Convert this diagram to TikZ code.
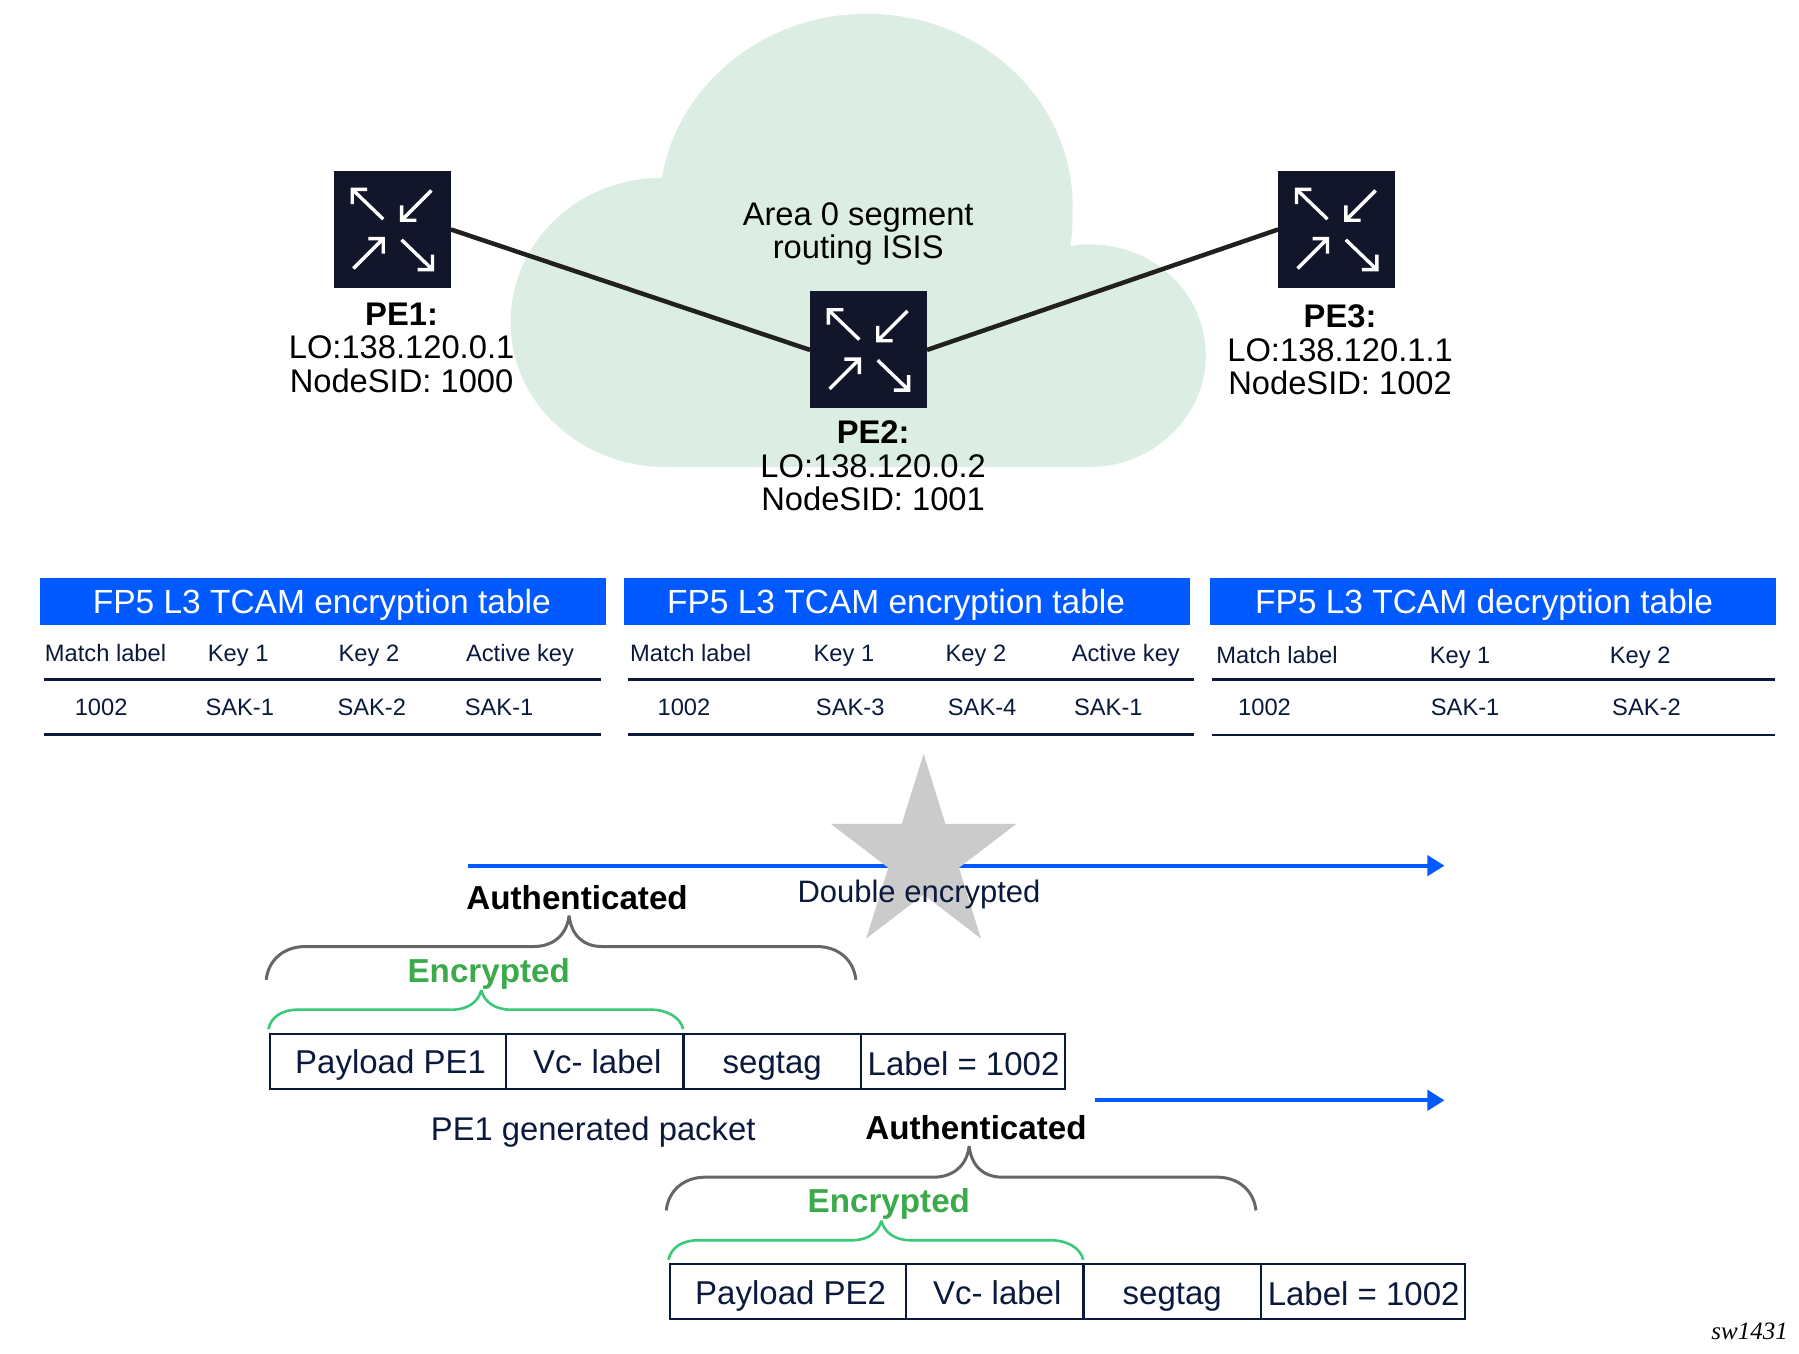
\documentclass[tikz,border=0pt]{standalone}
\usepackage{fontspec}
\setmainfont{Liberation Sans}
\newfontfamily\tagfont{Liberation Serif}
\usetikzlibrary{arrows.meta,positioning,calc}
\definecolor{navy}{HTML}{0B1A3C}
\definecolor{routerblack}{HTML}{12162A}
\definecolor{cloudgreen}{HTML}{DCEEE3}
\definecolor{linkblack}{HTML}{221F1F}
\definecolor{headblue}{HTML}{005AFF}
\definecolor{lightgreen}{HTML}{3CC878}
\definecolor{textgreen}{HTML}{3AAA4A}
\definecolor{bracegray}{HTML}{666666}
\definecolor{stargray}{HTML}{CBCBCB}
\newcommand{\bigfont}{\fontsize{32.7}{33.3}\selectfont}
\newcommand{\cellfont}{\fontsize{23.7}{28}\selectfont}
\tikzstyle{router}=[rectangle,fill=routerblack,minimum size=117pt,inner sep=0pt,outer sep=0pt]
\tikzstyle{routerarrow}=[draw=white,line width=3.4pt]
\tikzstyle{link}=[draw=linkblack,line width=4.5pt]
\tikzstyle{routerlabel}=[align=center,inner sep=0pt,font=\bigfont,text=black]
\tikzstyle{tablehead}=[rectangle,fill=headblue,minimum width=565.6pt,minimum height=47pt,inner sep=0pt]
\tikzstyle{tabletitle}=[inner sep=0pt,text=white,font=\fontsize{33.5}{38}\selectfont,text height=24pt,text depth=0pt]
\tikzstyle{cell}=[anchor=west,inner sep=0pt,text=navy,font=\cellfont,text height=17pt,text depth=0pt]
\tikzstyle{rule}=[draw=navy,line width=2.6pt]
\tikzstyle{field}=[rectangle,draw=navy,line width=2.2pt,inner sep=0pt,outer sep=0pt,minimum height=55pt,text=navy,font=\fontsize{33}{38}\selectfont,text height=24.5pt,text depth=0pt]
\tikzstyle{flow}=[draw=headblue,line width=4pt,-{Triangle[length=17pt,width=20pt]}]
\tikzstyle{caption}=[inner sep=0pt,text=navy,font=\fontsize{32.8}{38}\selectfont,text height=23.6pt,text depth=0pt]
\tikzstyle{authlabel}=[inner sep=0pt,text=black,font=\fontsize{33.2}{38}\selectfont\bfseries,text height=23.8pt,text depth=0pt]
\tikzstyle{enclabel}=[inner sep=0pt,text=textgreen,font=\fontsize{33.2}{38}\selectfont\bfseries,text height=23.8pt,text depth=0pt]
\tikzstyle{authbrace}=[draw=bracegray,line width=3pt,line join=bevel]
\tikzstyle{encbrace}=[draw=lightgreen,line width=2.6pt,line join=bevel]
\newcommand{\routerarrows}[1]{%
  \foreach \r in {0,180}{%
    \draw[routerarrow,shift={(#1.center)},rotate=\r]
      (-8,-9) -- (-35,-35) (-22,-35) -- (-35,-35) -- (-35,-22)
      (34,-34) -- (8,-8) (21,-8) -- (8,-8) -- (8,-21);
  }%
}
\newcommand{\packet}[2]{%
  \node[field,minimum width=236.3pt] (pay#1) at (338,925) {\hspace*{5.5pt}Payload #2};
  \node[field,minimum width=177.5pt,right=0pt of pay#1] (vc#1) {\hspace*{5pt}Vc- label};
  \node[field,minimum width=177.5pt,right=0pt of vc#1] (seg#1) {segtag};
  \node[field,minimum width=204.2pt,right=0pt of seg#1] (lab#1) {\hspace*{1pt}\raisebox{-1.5pt}{Label = 1002}};
  \draw[authbrace] (232,854) .. controls (234,836) and (248,825) .. (266,825) -- (465,825)
    .. controls (482,825) and (494,815) .. (496,798)
    .. controls (498,815) and (508,825) .. (525,825) -- (712,825)
    .. controls (730,825) and (744,836) .. (746,854);
  \draw[encbrace] (234,897) .. controls (236,887) and (245,880) .. (260,880) -- (394,880)
    .. controls (408,880) and (417,873) .. (419.5,863)
    .. controls (422,873) and (431,880) .. (445,880) -- (567,880)
    .. controls (582,880) and (593,887) .. (595.5,897);
}
\begin{document}
\begin{tikzpicture}[x=1.14732pt,y=-1.14732pt]
  \useasboundingbox (0,0) rectangle (1568,1179.3);

  % network
  \fill[cloudgreen] (580,407) -- (950,407) .. controls (1006,407) and (1051,362) .. (1051,310)
    .. controls (1051,256) and (1006,213) .. (950,213) .. controls (944,213) and (938,213.5) .. (933,214.5)
    .. controls (934.5,205) and (935,192) .. (935,180) .. controls (935,87) and (855,12) .. (755,12)
    .. controls (665,12) and (590,75) .. (577,155) .. controls (503,155) and (445,212) .. (445,281)
    .. controls (445,351) and (506,407) .. (580,407) -- cycle;

  \node[router] (pe1) at (342,200) {};
  \node[router] (pe2) at (757,305) {};
  \node[router] (pe3) at (1165,200) {};
  \draw[link] (pe1.east) -- (pe2.west);
  \draw[link] (pe2.east) -- (pe3.west);
  \routerarrows{pe1}
  \routerarrows{pe2}
  \routerarrows{pe3}

  \node[routerlabel] (area) at (748,204) {Area 0 segment \\ routing ISIS};
  \node[routerlabel] (pe1label) at (350,303) {\textbf{PE1:} \\ LO:138.120.0.1 \\ NodeSID: 1000};
  \node[routerlabel] (pe2label) at (761,406) {\textbf{PE2:} \\ LO:138.120.0.2 \\ NodeSID: 1001};
  \node[routerlabel] (pe3label) at (1168,305) {\textbf{PE3:} \\ LO:138.120.1.1 \\ NodeSID: 1002};

  % tables
  \node[tablehead] (head1) at (281.5,524.5) {};
  \node[tablehead] (head2) at (790.5,524.5) {};
  \node[tablehead] (head3) at (1301.5,524.5) {};
  \node[tabletitle] (title1) at (280.5,524) {FP5 L3 TCAM encryption table};
  \node[tabletitle] (title2) at (781,524) {FP5 L3 TCAM encryption table};
  \node[tabletitle] (title3) at (1293.5,524) {FP5 L3 TCAM decryption table};

  \node[cell] (t1a) at (39,569) {Match label};
  \node[cell] (t1b) at (181,569) {Key 1};
  \node[cell] (t1c) at (295,569) {Key 2};
  \node[cell] (t1d) at (406,569) {Active key};
  \node[cell] (t1e) at (65,616) {1002};
  \node[cell] (t1f) at (179,616) {SAK-1};
  \node[cell] (t1g) at (294,616) {SAK-2};
  \node[cell] (t1h) at (405,616) {SAK-1};
  \coordinate (r1a) at (38,592); \coordinate (r1b) at (524,592);
  \coordinate (r1c) at (38,640); \coordinate (r1d) at (524,640);
  \draw[rule] (r1a) -- (r1b);
  \draw[rule] (r1c) -- (r1d);

  \node[cell] (t2a) at (549,569) {Match label};
  \node[cell] (t2b) at (709,569) {Key 1};
  \node[cell] (t2c) at (824,569) {Key 2};
  \node[cell] (t2d) at (934,569) {Active key};
  \node[cell] (t2e) at (573,616) {1002};
  \node[cell] (t2f) at (711,616) {SAK-3};
  \node[cell] (t2g) at (826,616) {SAK-4};
  \node[cell] (t2h) at (936,616) {SAK-1};
  \coordinate (r2a) at (547,592); \coordinate (r2b) at (1041,592);
  \coordinate (r2c) at (547,640); \coordinate (r2d) at (1041,640);
  \draw[rule] (r2a) -- (r2b);
  \draw[rule] (r2c) -- (r2d);

  \node[cell] (t3a) at (1060,571) {Match label};
  \node[cell] (t3b) at (1246,571) {Key 1};
  \node[cell] (t3c) at (1403,571) {Key 2};
  \node[cell] (t3e) at (1079,616) {1002};
  \node[cell] (t3f) at (1247,616) {SAK-1};
  \node[cell] (t3g) at (1405,616) {SAK-2};
  \coordinate (r3a) at (1056,592); \coordinate (r3b) at (1547,592);
  \coordinate (r3c) at (1056,640.5); \coordinate (r3d) at (1547,640.5);
  \draw[rule] (r3a) -- (r3b);
  \draw[rule] (r3c) -- (r3d);

  % packets
  \coordinate (flow1a) at (408,754.5); \coordinate (flow1b) at (1259,754.5);
  \coordinate (flow2a) at (954,959); \coordinate (flow2b) at (1259,959);
  \draw[flow] (flow1a) -- (flow1b);
  \draw[flow] (flow2a) -- (flow2b);
  \fill[stargray] (805,657) -- (824,718) -- (886,718) -- (835.8,756.3) -- (855,818) -- (805,779.8)
    -- (755,818) -- (774.2,756.3) -- (724,718) -- (786,718) -- cycle;
  \node[caption,font=\fontsize{31}{36}\selectfont,text height=22.2pt] (double) at (801,777) {Double encrypted};

  \packet{a}{PE1}
  \node[authlabel] (autha) at (503,782) {Authenticated};
  \node[enclabel] (enca) at (426,846) {Encrypted};
  \node[caption] (gen) at (517,984) {PE1 generated packet};

  \begin{scope}[shift={(348.7,201)}]
    \packet{b}{PE2}
    \node[authlabel] (authb) at (502,782) {Authenticated};
    \node[enclabel] (encb) at (426,845) {Encrypted};
  \end{scope}

  \node[inner sep=0pt,font=\tagfont\itshape\fontsize{25}{28}\selectfont] (tag) at (1525,1160) {sw1431};
\end{tikzpicture}
\end{document}
